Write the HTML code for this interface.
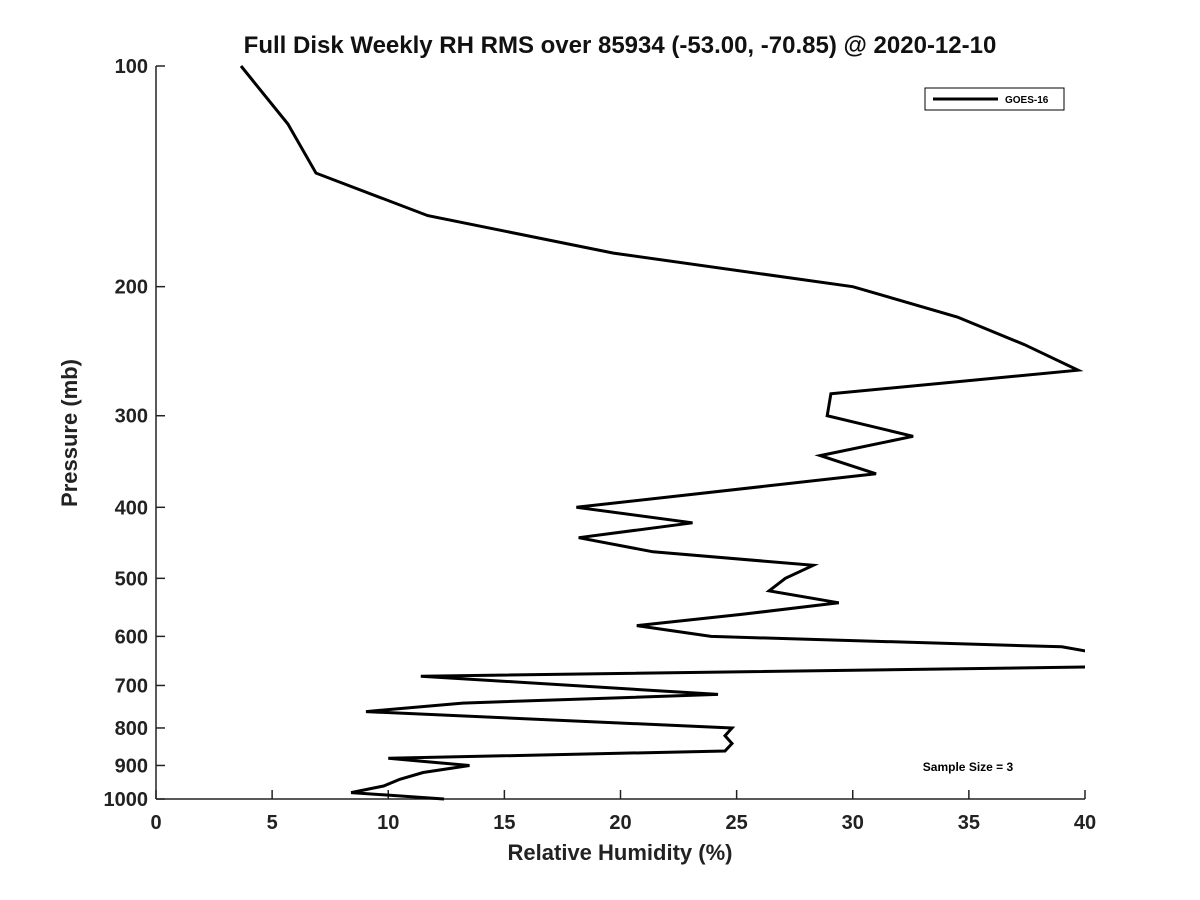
<!DOCTYPE html>
<html><head><meta charset="utf-8"><style>
body{margin:0;background:#fff;}
svg{display:block;font-family:"Liberation Sans","DejaVu Sans",sans-serif;}
</style></head><body>
<svg id="chart" width="1200" height="900">
<rect width="1200" height="900" fill="#fff"/>
<text x="620" y="53" text-anchor="middle" font-size="24" font-weight="bold" fill="#111">Full Disk Weekly RH RMS over 85934 (-53.00, -70.85) @ 2020-12-10</text>
<defs><clipPath id="plotclip"><rect x="156" y="60" width="929" height="745"/></clipPath></defs>
<g id="axes"></g>
<g id="series" clip-path="url(#plotclip)"></g>
<g>
<rect x="925" y="88" width="139" height="22" fill="#fff" stroke="#000" stroke-width="1"/>
<line x1="933" y1="99" x2="998" y2="99" stroke="#000" stroke-width="3"/>
<text x="1005" y="103" font-size="10" font-weight="bold">GOES-16</text>
</g>
<text x="968" y="771" text-anchor="middle" font-size="12" font-weight="bold">Sample Size = 3</text>
<text x="620" y="860" text-anchor="middle" font-size="22" font-weight="bold" fill="#222">Relative Humidity (%)</text>
<text transform="translate(77,433) rotate(-90)" text-anchor="middle" font-size="22" font-weight="bold" fill="#222">Pressure (mb)</text>
</svg>
<script>
const pressures=[100,120,140,160,180,200,220,240,260,280,300,320,340,360,400,420,440,460,480,500,520,540,560,580,600,620,640,660,680,720,740,760,800,820,840,860,880,900,920,940,960,980,1000];
const rhValues=[3.66,5.68,6.89,11.7,19.7,30.0,34.5,37.4,39.7,29.06,28.9,32.6,28.6,31.0,18.1,23.1,18.2,21.4,28.3,27.1,26.4,29.4,25.2,20.7,23.9,39.0,41.5,41.0,11.4,24.2,13.2,9.04,24.8,24.5,24.8,24.5,10.0,13.5,11.5,10.5,9.8,8.4,12.4];
const xTicks=[0,5,10,15,20,25,30,35,40];
const yTicks=[100,200,300,400,500,600,700,800,900,1000];
const X0=156,X1=1085,Y0=66,Y1=799;
const xs=v=>X0+(v-0)/40*(X1-X0);
const ys=p=>Y0+(Math.log10(p)-2)*(Y1-Y0);
const NS="http://www.w3.org/2000/svg";
const axes=document.getElementById('axes');
function mk(tag,attrs,parent){const e=document.createElementNS(NS,tag);for(const k in attrs)e.setAttribute(k,attrs[k]);parent.appendChild(e);return e;}
const ax=mk('line',{x1:X0,y1:Y1,x2:X1,y2:Y1,stroke:'#222','stroke-width':1.5},axes);


const ay=mk('line',{x1:X0,y1:Y0,x2:X0,y2:Y1,stroke:'#222','stroke-width':1.5},axes);


xTicks.forEach(v=>{
 const x=xs(v);
 const t=mk('line',{x1:x,y1:Y1,x2:x,y2:Y1-9,stroke:'#222','stroke-width':1.5},axes);
 
 
 const l=mk('text',{x:x,y:829,'text-anchor':'middle','font-size':20,'font-weight':'bold',fill:'#222'},axes);
 l.textContent=v;
 
 
});
yTicks.forEach(p=>{
 const y=ys(p);
 const t=mk('line',{x1:X0,y1:y,x2:X0+9,y2:y,stroke:'#222','stroke-width':1.5},axes);
 
 
 const l=mk('text',{x:148,y:y+7,'text-anchor':'end','font-size':20,'font-weight':'bold',fill:'#222'},axes);
 l.textContent=p;
 
 
});
const pts=pressures.map((p,i)=>xs(rhValues[i]).toFixed(1)+','+ys(p).toFixed(1)).join(' ');
const line=mk('polyline',{points:pts,fill:'none',stroke:'#000','stroke-width':3,'stroke-linejoin':'miter'},document.getElementById('series'));


</script>
</body></html>
